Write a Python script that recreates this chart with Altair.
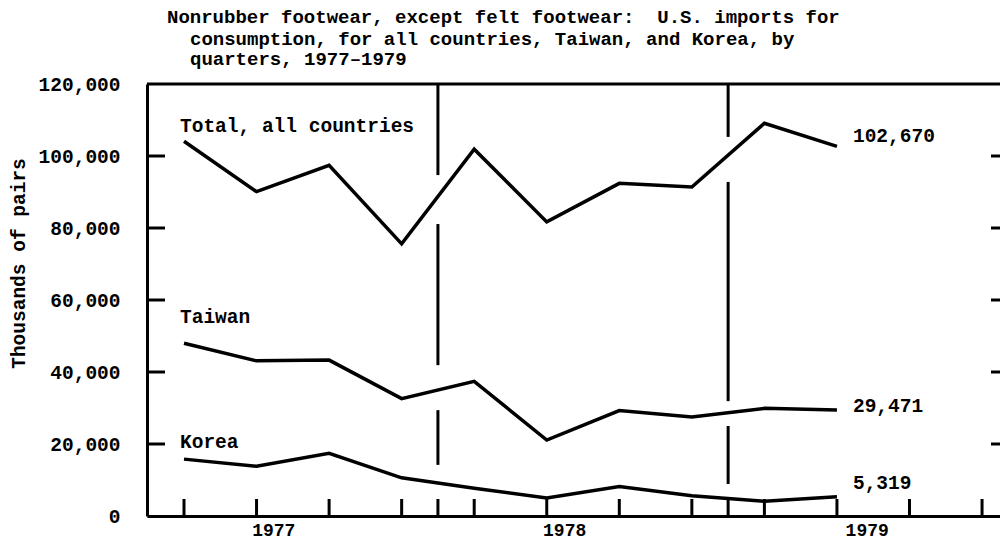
import altair as alt
import pandas as pd

# ---- data ----
quarters = list(range(10))  # 1977 Q1 ... 1979 Q2
total = [104100, 90100, 97400, 75600, 101900, 81700, 92400, 91400, 109100, 102670]
taiwan = [48000, 43100, 43300, 32600, 37400, 21100, 29300, 27500, 29900, 29471]
korea = [15800, 13800, 17400, 10600, 7700, 5000, 8200, 5600, 4100, 5319]
series_names = ["Total, all countries", "Taiwan", "Korea"]
end_labels = ["102,670", "29,471", "5,319"]

tick_quarters = [0, 1, 2, 3, 3.5, 4, 5, 6, 7, 7.5, 8, 9, 10, 11]
year_labels = ["1977", "1978", "1979"]
year_label_pos = [1.23, 5.24, 9.41]
y_tick_values = [0, 20000, 40000, 60000, 80000, 100000, 120000]
inner_y_ticks = [20000, 40000, 60000, 80000, 100000]
divider_x = [3.5, 3.5, 3.5, 7.5, 7.5, 7.5]
divider_top = [120000, 81100, 29400, 120000, 92800, 25000]
divider_bottom = [94700, 41900, 14200, 105300, 31900, 8900]

title_lines = [
    "Nonrubber footwear, except felt footwear:\u00a0\u00a0U.S. imports for",
    "consumption, for all countries, Taiwan, and Korea, by",
    "quarters, 1977\u20131979",
]

FONT = "Liberation Mono"
W, H = 853, 432
PX_PER_Q = 72.55

rows = []
for name, vals in zip(series_names, [total, taiwan, korea]):
    for q, v in zip(quarters, vals):
        rows.append({"series": name, "q": q, "v": v})
lines_df = pd.DataFrame(rows)

x_lo = -0.51
xscale = alt.Scale(domain=[x_lo, x_lo + W / PX_PER_Q], nice=False, zero=False)
yscale = alt.Scale(domain=[0, 120000], nice=False, zero=True)

label_expr = " : ".join(
    [f"datum.value < {p + 2} ? '{t}'" for p, t in zip(year_label_pos[:-1], year_labels[:-1])]
    + [f"'{year_labels[-1]}'"]
)

x_axis = alt.Axis(
    values=year_label_pos, labelExpr=label_expr, ticks=False, tickSize=0, grid=False,
    domainWidth=3, domainColor="black", labelFont=FONT, labelFontSize=18,
    labelFontWeight="bold", labelColor="black", labelPadding=5, title=None,
    labelFlush=False,
)
y_axis = alt.Axis(
    values=y_tick_values, format=",d", ticks=False, tickSize=0, grid=False,
    domainWidth=3, domainColor="black", labelFont=FONT, labelFontSize=19.5,
    labelFontWeight="bold", labelColor="black", labelPadding=27,
    title="Thousands of pairs", titleFont=FONT, titleFontSize=19.5,
    titleFontWeight="bold", titleColor="black", titleAngle=270,
    titleX=-129, titleY=179, titleAlign="center", titleBaseline="middle",
)

base_lines = alt.Chart(lines_df).mark_line(color="black", strokeWidth=3.5).encode(
    x=alt.X("q:Q", scale=xscale, axis=x_axis),
    y=alt.Y("v:Q", scale=yscale, axis=y_axis),
    detail="series:N",
)

# top border
top_df = pd.DataFrame({"v": [120000]})
top_rule = alt.Chart(top_df).mark_rule(color="black", strokeWidth=3).encode(
    y=alt.Y("v:Q", scale=yscale)
)

# dividers between years
div_df = pd.DataFrame({"q": divider_x, "top": divider_top, "bottom": divider_bottom})
dividers = alt.Chart(div_df).mark_rule(color="black", strokeWidth=3).encode(
    x=alt.X("q:Q", scale=xscale),
    y=alt.Y("top:Q", scale=yscale),
    y2="bottom:Q",
)

# inward tick marks
xt_df = pd.DataFrame({"q": tick_quarters})
x_ticks = alt.Chart(xt_df).mark_rule(color="black", strokeWidth=3).encode(
    x=alt.X("q:Q", scale=xscale),
    y=alt.value(H), y2=alt.value(H - 17),
)
yt_df = pd.DataFrame({"v": inner_y_ticks})
y_ticks_left = alt.Chart(yt_df).mark_rule(color="black", strokeWidth=3).encode(
    y=alt.Y("v:Q", scale=yscale),
    x=alt.value(0), x2=alt.value(18),
)
y_ticks_right = alt.Chart(yt_df).mark_rule(color="black", strokeWidth=3).encode(
    y=alt.Y("v:Q", scale=yscale),
    x=alt.value(W - 9), x2=alt.value(W),
)

layers = [base_lines, top_rule, dividers, x_ticks, y_ticks_left, y_ticks_right]

# series names at the first point, end values at the last point
start_dy = [-15, -26, -17]
end_dy = [-10, -4, -14]
for name, vals, lab, sdy, edy in zip(series_names, [total, taiwan, korea], end_labels, start_dy, end_dy):
    sdf = pd.DataFrame({"q": [quarters[0]], "v": [vals[0]], "t": [name]})
    edf = pd.DataFrame({"q": [quarters[-1]], "v": [vals[-1]], "t": [lab]})
    for df, dx, dy in [(sdf, -4, sdy), (edf, 16, edy)]:
        layers.append(
            alt.Chart(df).mark_text(
                font=FONT, fontSize=19.5, fontWeight="bold", color="black",
                align="left", baseline="middle", dx=dx, dy=dy,
            ).encode(
                x=alt.X("q:Q", scale=xscale),
                y=alt.Y("v:Q", scale=yscale),
                text="t:N",
            )
        )

# title, three typed lines (continuation lines indented two characters)
title_x = [20, 43, 43]
title_y = [-61, -39, -19]
for txt, tx, ty in zip(title_lines, title_x, title_y):
    layers.append(
        alt.Chart(pd.DataFrame({"t": [txt]})).mark_text(
            font=FONT, fontSize=19, fontWeight="bold", color="black",
            align="left", baseline="alphabetic",
        ).encode(x=alt.value(tx), y=alt.value(ty), text="t:N")
    )

chart = alt.layer(*layers).properties(
    width=W, height=H,
    padding={"left": 139, "top": 76, "right": 0, "bottom": 25},
    autosize=alt.AutoSizeParams(type="none"),
).configure_view(stroke=None).configure(background="white")

chart.save("out.html", embed_options={"renderer": "svg", "actions": False})
